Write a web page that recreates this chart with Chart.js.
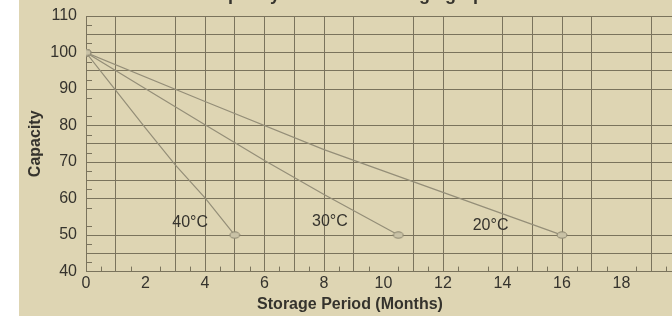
<!DOCTYPE html>
<html>
<head>
<meta charset="utf-8">
<script src="https://cdn.jsdelivr.net/npm/chart.js@4"></script>
<style>
html, body { margin: 0; padding: 0; width: 672px; height: 316px; overflow: hidden; background: #fff; }
#panel { position: absolute; left: 19px; top: 0; width: 653px; height: 316px; overflow: hidden; background: #ded5b3; }
#chart { position: absolute; left: 0; top: -16px; }
</style>
</head>
<body>
<div id="panel"><canvas id="chart" width="676" height="332"></canvas></div>
<script>
// capacity (%) against storage months, one pair of arrays per temperature
const months40 = [0, 1, 2, 3, 4, 5];
const capacity40 = [100, 89.6, 79.3, 69.2, 60.2, 50];
const months30 = [0, 2, 4, 6, 8, 10.5];
const capacity30 = [100, 90.1, 80.2, 70.4, 61.1, 50];
const months20 = [0, 4, 8, 12, 16];
const capacity20 = [100, 86.6, 73.4, 61.7, 50];

const seriesNames = ['40°C', '30°C', '20°C'];
const nameMonths = [3.5, 8.2, 13.6];
const nameCapacity = [53.3, 53.8, 52.5];

const xTickLabels = [0, 2, 4, 6, 8, 10, 12, 14, 16, 18, 20];
const yTickLabels = [40, 50, 60, 70, 80, 90, 100, 110];
// grid lines that the printed chart leaves out
const missingMonthLines = [2, 10, 13, 18];
const missingCapLines = [55, 85];

const sans = '"Liberation Sans", Arial, sans-serif';
const textColor = '#35332d';
const gridColor = '#7a735c';
const lineColor = '#948e78';

// little oval used for the end points
const dot = document.createElement('canvas');
dot.width = 12;
dot.height = 8;
const dctx = dot.getContext('2d');
dctx.beginPath();
dctx.ellipse(6, 4, 5, 3.2, 0, 0, Math.PI * 2);
dctx.fillStyle = '#c9c2a6';
dctx.fill();
dctx.strokeStyle = '#8a846e';
dctx.lineWidth = 1;
dctx.stroke();

function toPoints(months, caps) {
	return months.map((m, i) => ({x: m, y: caps[i]}));
}

function endRadius(ctx) {
	const last = ctx.dataset.data.length - 1;
	return (ctx.dataIndex === 0 || ctx.dataIndex === last) ? 5 : 0;
}

const extras = {
	id: 'extras',
	afterDatasetsDraw(chart) {
		const {ctx, chartArea, scales: {x, y}} = chart;
		ctx.save();
		ctx.strokeStyle = gridColor;
		ctx.lineWidth = 1;
		ctx.beginPath();
		for (let m = 0.5; m < 20; m += 1) {
			const px = Math.round(x.getPixelForValue(m)) + 0.5;
			ctx.moveTo(px, chartArea.bottom);
			ctx.lineTo(px, chartArea.bottom - 5);
		}
		for (let c = 42.5; c < 110; c += 5) {
			const py = Math.round(y.getPixelForValue(c)) + 0.5;
			ctx.moveTo(chartArea.left, py);
			ctx.lineTo(chartArea.left + 6, py);
		}
		ctx.stroke();

		ctx.fillStyle = textColor;
		ctx.font = '16px ' + sans;
		ctx.textAlign = 'center';
		ctx.textBaseline = 'middle';
		seriesNames.forEach((name, i) => {
			ctx.fillText(name, x.getPixelForValue(nameMonths[i]), y.getPixelForValue(nameCapacity[i]));
		});
		ctx.restore();
	}
};

const sets = [[months40, capacity40], [months30, capacity30], [months20, capacity20]];

new Chart(document.getElementById('chart'), {
	type: 'line',
	data: {
		datasets: sets.map((s, i) => ({
			label: seriesNames[i],
			data: toPoints(s[0], s[1]),
			borderColor: lineColor,
			borderWidth: 1.2,
			tension: 0,
			pointStyle: dot,
			pointRadius: endRadius,
		}))
	},
	options: {
		responsive: false,
		animation: false,
		events: [],
		layout: {padding: {left: 0, right: 14, top: 0, bottom: 0}},
		plugins: {
			legend: {display: false},
			tooltip: {enabled: false},
			title: {
				display: true,
				text: 'Capacity vs. Self Discharge graph',
				color: textColor,
				font: {family: sans, size: 18, weight: 'bold'},
				padding: {top: 0, bottom: 10.4}
			},
			subtitle: {
				display: true,
				position: 'bottom',
				text: 'Storage Period (Months)',
				color: textColor,
				font: {family: sans, size: 16, weight: 'bold'},
				padding: {top: 0, bottom: 2}
			}
		},
		scales: {
			x: {
				type: 'linear',
				min: 0,
				max: 20,
				ticks: {
					stepSize: 1,
					autoSkip: false,
					maxRotation: 0,
					padding: 2,
					color: textColor,
					font: {family: sans, size: 16},
					callback: v => xTickLabels.includes(v) ? v : ''
				},
				grid: {
					drawTicks: false,
					color: ctx => missingMonthLines.includes(ctx.tick.value) ? 'rgba(0,0,0,0)' : gridColor
				},
				border: {color: gridColor}
			},
			y: {
				min: 40,
				max: 110,
				afterFit(scale) { scale.width = 67; },
				ticks: {
					stepSize: 5,
					autoSkip: false,
					padding: 9,
					color: textColor,
					font: {family: sans, size: 16},
					callback: v => yTickLabels.includes(v) ? v : ''
				},
				grid: {
					drawTicks: false,
					color: ctx => missingCapLines.includes(ctx.tick.value) ? 'rgba(0,0,0,0)' : gridColor
				},
				border: {color: gridColor},
				title: {
					display: true,
					text: 'Capacity',
					color: textColor,
					font: {family: sans, size: 16, weight: 'bold'},
					padding: {top: 7, bottom: 9}
				}
			}
		}
	},
	plugins: [extras]
});
</script>
</body>
</html>
